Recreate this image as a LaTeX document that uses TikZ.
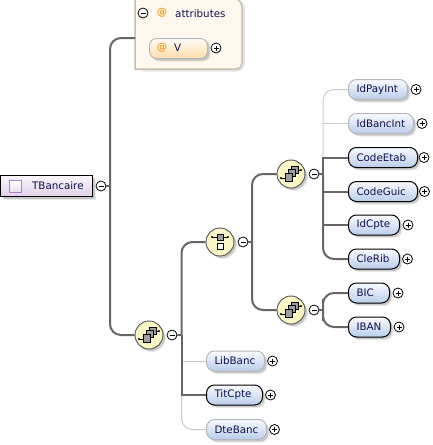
\documentclass[tikz,border=0pt]{standalone}
\usepackage{fontspec}
\setmainfont{DejaVu Sans}
\usetikzlibrary{shadows,calc}
\definecolor{conn}{HTML}{666666}
\definecolor{lightconn}{HTML}{C9C9C9}
\definecolor{blueb}{HTML}{B9CDEA}
\definecolor{graybd}{HTML}{B4B8BE}
\definecolor{txt}{HTML}{10104A}
\definecolor{attrfill}{HTML}{FFF8EE}
\definecolor{attrbd}{HTML}{C6C0B2}
\definecolor{orangeb}{HTML}{FFDCAA}
\definecolor{atcolor}{HTML}{F2A020}
\definecolor{purb}{HTML}{E2D0EA}
\definecolor{purbd}{HTML}{B080C8}
\definecolor{yel}{HTML}{FBF6C6}
\tikzset{
  softshadow/.style={
    general shadow={fill=black,opacity=.08,shadow xshift=3pt,shadow yshift=-3pt},
    general shadow={fill=black,opacity=.15,shadow xshift=2pt,shadow yshift=-2pt}},
  elem/.style={softshadow,rectangle,rounded corners=8pt,anchor=west,minimum height=20pt,
    inner xsep=8pt,inner ysep=0pt,text=txt,font=\fontsize{10.3}{12}\selectfont,
    top color=white!92!blueb,bottom color=blueb,align=left},
  optel/.style={elem,draw=graybd,line width=1pt},
  reqel/.style={elem,draw=black,line width=1pt},
  btn/.style={circle,draw=black,fill=white,line width=.8pt,minimum size=10pt,inner sep=0pt},
  minusbtn/.style={btn,path picture={\draw[line width=.8pt]
     ($(path picture bounding box.center)+(-2.5,0)$)--($(path picture bounding box.center)+(2.5,0)$);}},
  plusbtn/.style={btn,path picture={\draw[line width=.8pt]
     ($(path picture bounding box.center)+(-2.5,0)$)--($(path picture bounding box.center)+(2.5,0)$)
     ($(path picture bounding box.center)+(0,-2.5)$)--($(path picture bounding box.center)+(0,2.5)$);}},
  compositor/.style={softshadow,circle,draw=conn!80!black,line width=.9pt,fill=yel,minimum size=28pt,inner sep=0pt},
  darkline/.style={draw=conn,line width=2pt,rounded corners=11pt},
  stubline/.style={draw=conn,line width=1.5pt},
  lightline/.style={draw=lightconn,line width=1pt,rounded corners=11pt},
  atsign/.style={text=atcolor,font=\fontsize{10.3}{12}\selectfont\bfseries,inner sep=0pt},
  plainlabel/.style={anchor=west,inner sep=0pt,text=txt,font=\fontsize{10.3}{12}\selectfont},
  iconbox/.style={draw=black,line width=.5pt,fill=gray!75,minimum size=0pt},
}
\newcommand{\seqicon}[1]{%
  \begin{scope}[shift={(#1)}]
    \draw[line width=.7pt] (-10,4)--(-4,4) (3,-4)--(10,-4);
    \fill (-10,4) circle (1.2pt) (10,-4) circle (1.2pt);
    \draw[iconbox] (0,-8) rectangle (7,-1);
    \draw[iconbox] (-3,-5) rectangle (4,2);
    \draw[iconbox] (-6,-1) rectangle (1,7);
  \end{scope}}
\newcommand{\choiceicon}[1]{%
  \begin{scope}[shift={(#1)}]
    \draw[line width=.7pt] (-8,-5)--(8,-5);
    \fill (-8,-5) circle (1.2pt) (8,-5) circle (1.2pt);
    \draw[iconbox] (-3,-8) rectangle (3,-2);
    \draw[draw=black,line width=.6pt,fill=white] (-3,1) rectangle (3,7);
  \end{scope}}
\begin{document}
\begin{tikzpicture}[x=1pt,y=-1pt]
\useasboundingbox (0,0) rectangle (433,445);
% joints
\coordinate (j1) at (110,186);
\coordinate (j2) at (181.5,335);
\coordinate (j3) at (252,242);
\coordinate (j4) at (323,174);
\coordinate (j5) at (323,310);
\coordinate (attrport) at (135,38);

% attributes box
\path[fill=black,opacity=.10,rounded corners=8pt] (137,0) -- (245,0) -- (245,71.5) -- (137,71.5) -- cycle;
\draw[draw=attrbd,fill=attrfill,line width=1.5pt] (135,-2) -- (233,-2)
   .. controls (238,-2) and (242,2) .. (242,8) -- (242,62)
   .. controls (242,66) and (240,69) .. (236,69) -- (135,69) -- cycle;
\shade[left color=attrfill,middle color=gray!45,right color=attrfill] (139,26) rectangle (219,28);

% element nodes
\node[elem,draw=black,rounded corners=0pt,line width=1pt,minimum width=92pt,minimum height=21pt,top color=white!80!purb,bottom color=purb,
      text width=60pt,inner xsep=0pt] (tb) at (0,186) {};
\node[plainlabel] (tblabel) at (32,186) {TBancaire};
\node[draw=purbd,line width=1pt,top color=white,bottom color=purb!70,minimum size=12pt,inner sep=0pt] (tbicon) at (15.5,186.5) {};
\node[minusbtn] (tbm) at (101,186) {};

\node[minusbtn] (am) at (143,13) {};
\node[atsign] (aat) at (162,13) {@};
\node[plainlabel] (atitle) at (175,13.5) {attributes};

\node[elem,draw=graybd,line width=1pt,top color=white!90!orangeb,bottom color=orangeb,minimum width=58pt,text width=33pt,inner xsep=0pt,rounded corners=7pt] (v) at (149,48.5) {};
\node[atsign] (vat) at (162,48) {@};
\node[plainlabel] (vlabel) at (174,48) {V};
\node[plusbtn] (vp) at (216,48) {};

% compositors
\node[compositor] (seq1) at (149,335) {};
\node[minusbtn] (seq1m) at (172,335) {};
\node[compositor] (cho) at (220,242) {};
\node[minusbtn] (chom) at (243,242) {};
\node[compositor] (seq2) at (291,174) {};
\node[minusbtn] (seq2m) at (314,174) {};
\node[compositor] (seq3) at (291,310) {};
\node[minusbtn] (seq3m) at (314,310) {};
\seqicon{149,335}
\choiceicon{220,242}
\seqicon{291,174}
\seqicon{291,310}

% element nodes
\node[optel,minimum width=59pt,text width=43pt] (idpay) at (348,89.5) {IdPayInt};
\node[plusbtn] (idpayp) at (416,89.5) {};
\node[optel,minimum width=65pt,text width=49pt] (idbanc) at (348,123.5) {IdBancInt};
\node[plusbtn] (idbancp) at (422,123.5) {};
\node[reqel,minimum width=69pt,text width=53pt] (codee) at (348,157.5) {CodeEtab};
\node[plusbtn] (codeep) at (424,157.5) {};
\node[reqel,minimum width=69pt,text width=53pt] (codeg) at (348,191.5) {CodeGuic};
\node[plusbtn] (codegp) at (424.5,191.5) {};
\node[reqel,minimum width=51pt,text width=35pt] (idc) at (348,225) {IdCpte};
\node[plusbtn] (idcp) at (408,225) {};
\node[reqel,minimum width=51pt,text width=35pt] (cle) at (348,259) {CleRib};
\node[plusbtn] (clep) at (407.5,259) {};
\node[reqel,minimum width=41pt,text width=25pt] (bic) at (348,293) {BIC};
\node[plusbtn] (bicp) at (398,293) {};
\node[reqel,minimum width=42pt,text width=26pt] (iban) at (348,327) {IBAN};
\node[plusbtn] (ibanp) at (399,327) {};
\node[optel,minimum width=58pt,text width=42pt] (lib) at (206,361) {LibBanc};
\node[plusbtn] (libp) at (272.5,361) {};
\node[reqel,minimum width=56pt,text width=40pt] (tit) at (206,395) {TitCpte};
\node[plusbtn] (titp) at (270.5,395) {};
\node[optel,minimum width=60pt,text width=44pt] (dte) at (206,429.5) {DteBanc};
\node[plusbtn] (dtep) at (274.5,429.5) {};

% connectors
\draw[lightline] (idpay.west) -| (j4);
\draw[lightline,rounded corners=0pt] (j4 |- idbanc.west) -- (idbanc.west);
\draw[lightline,rounded corners=0pt] (j4) -- (j4 |- codee.west);
\draw[lightline,rounded corners=0pt] (lib.west) -- (j2 |- lib.west);
\draw[lightline] (j2 |- tit.west) |- (dte.west);
\draw[darkline] (attrport) -| (j1) |- (seq1.west);
\draw[stubline] (tbm.east) -- (j1);
\draw[darkline] (cho.west) -| (j2);
\draw[darkline,rounded corners=0pt] (j2) -- (j2 |- tit.west) -- (tit.west);
\draw[stubline] (seq1m.east) -- (j2);
\draw[darkline] (seq2.west) -| (j3) |- (seq3.west);
\draw[stubline] (chom.east) -- (j3);
\draw[darkline,rounded corners=0pt] (codee.west) -- (j4 |- codee.west) -- (j4);
\draw[darkline] (j4) |- (cle.west);
\draw[darkline,rounded corners=0pt] (j4 |- codeg.west) -- (codeg.west);
\draw[darkline,rounded corners=0pt] (j4 |- idc.west) -- (idc.west);
\draw[stubline] (seq2m.east) -- (j4);
\draw[darkline] (bic.west) -| (j5) |- (iban.west);
\draw[stubline] (seq3m.east) -- (j5);
\end{tikzpicture}
\end{document}
